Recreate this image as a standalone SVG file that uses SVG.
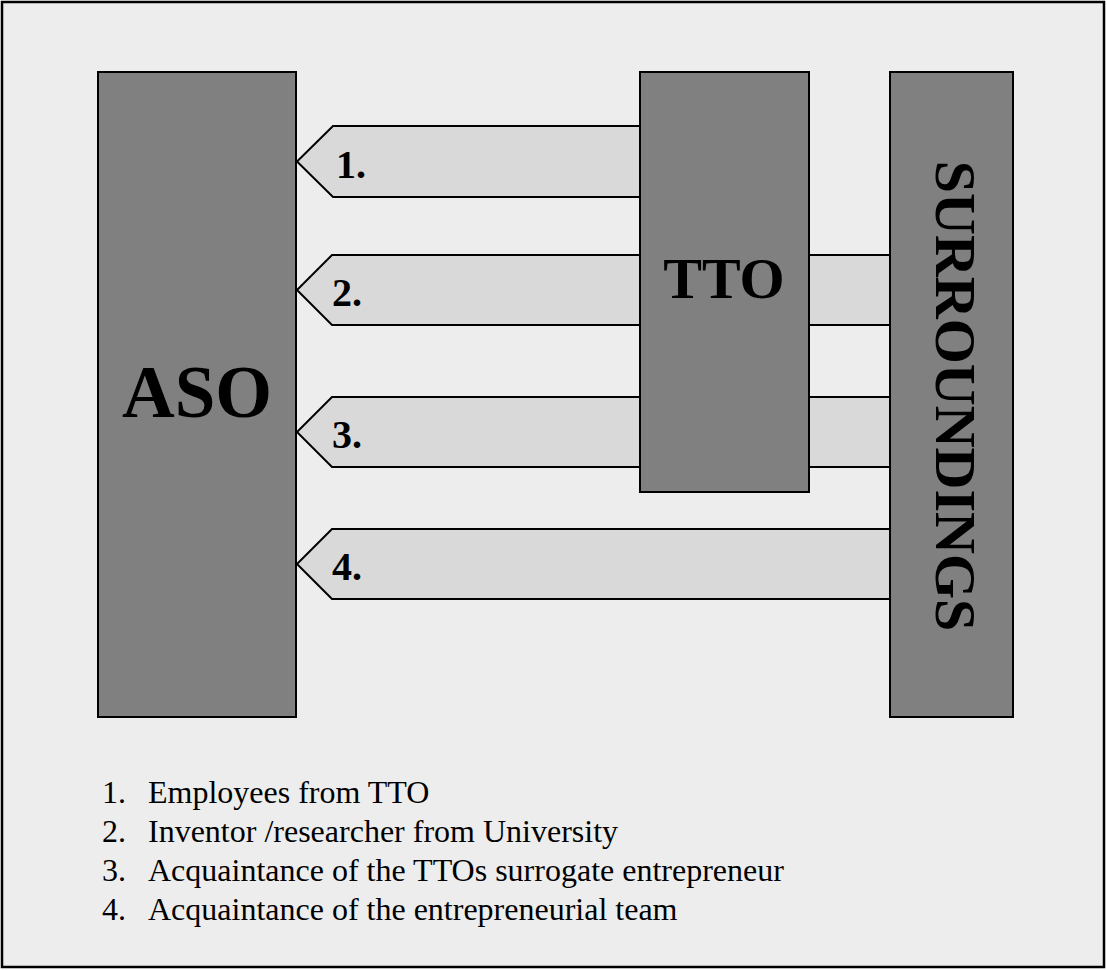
<svg xmlns="http://www.w3.org/2000/svg" width="1107" height="970" viewBox="0 0 1107 970">
  <style>
    .frame { fill: #ededed; stroke: #000; stroke-width: 2.5; }
    .block { fill: #808080; stroke: #000; stroke-width: 2; }
    .flow { fill: #d9d9d9; stroke: #000; stroke-width: 2; }
    .big { font-family: "Liberation Serif", "Times New Roman", serif; font-weight: bold; fill: #000; }
    .num { font-family: "Liberation Serif", "Times New Roman", serif; font-weight: bold; font-size: 40px; fill: #000; }
    .legend { font-family: "Liberation Serif", "Times New Roman", serif; font-size: 32px; fill: #000; }
  </style>

  <rect class="frame" x="2" y="2" width="1102" height="965"/>

  <!-- flows into ASO -->
  <g id="connectors">
    <polygon class="flow" points="890,255 332,255 297,290 332,325 890,325"/>
    <polygon class="flow" points="890,397 332,397 297,432 332,467 890,467"/>
    <polygon class="flow" points="640,126 333,126 297,161.5 333,197 640,197"/>
    <polygon class="flow" points="890,529 332,529 297,564 332,599 890,599"/>
    <text class="num" x="336" y="178">1.</text>
    <text class="num" x="332" y="306">2.</text>
    <text class="num" x="332" y="448">3.</text>
    <text class="num" x="332" y="580">4.</text>
  </g>

  <g id="aso">
    <rect class="block" x="98" y="72" width="198" height="645"/>
    <text class="big" x="197" y="417" font-size="73" text-anchor="middle">ASO</text>
  </g>

  <g id="tto">
    <rect class="block" x="640" y="72" width="169" height="420"/>
    <text class="big" x="724" y="298" font-size="58" text-anchor="middle">TTO</text>
  </g>

  <g id="surroundings">
    <rect class="block" x="890" y="72" width="123" height="645"/>
    <text class="big" font-size="58" text-anchor="middle" transform="translate(936,396) rotate(90)">SURROUNDINGS</text>
  </g>

  <g id="legend">
    <text class="legend" x="102" y="803">1.</text>
    <text class="legend" x="148" y="803">Employees from TTO</text>
    <text class="legend" x="102" y="842">2.</text>
    <text class="legend" x="148" y="842">Inventor /researcher from University</text>
    <text class="legend" x="102" y="881">3.</text>
    <text class="legend" x="148" y="881">Acquaintance of the TTOs surrogate entrepreneur</text>
    <text class="legend" x="102" y="920">4.</text>
    <text class="legend" x="148" y="920">Acquaintance of the entrepreneurial team</text>
  </g>
</svg>
